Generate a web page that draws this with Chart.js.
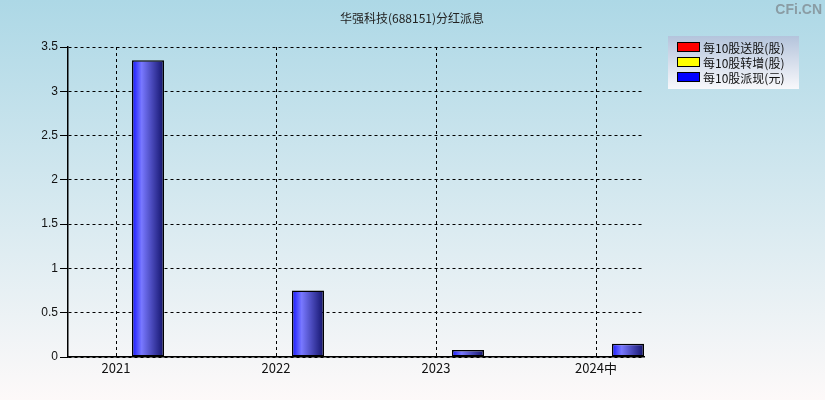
<!DOCTYPE html>
<html>
<head>
<meta charset="utf-8">
<script src="https://cdn.jsdelivr.net/npm/chart.js@4"></script>
<style>
  body { margin: 0; }
  #box { width: 825px; height: 400px; background: linear-gradient(to bottom, #add8e6, #fdf9f9); }
</style>
</head>
<body>
<div id="box"><canvas id="dividendChart" width="825" height="400"></canvas></div>
<script>
const title = '华强科技(688151)分红派息'
const years = ['2021', '2022', '2023', '2024中']
const songGu = [0, 0, 0, 0]
const zhuanZeng = [0, 0, 0, 0]
const paiXian = [3.35, 0.75, 0.08, 0.15]
const seriesNames = ['每10股送股(股)', '每10股转增(股)', '每10股派现(元)']
const seriesColors = ['#ff0000', '#ffff00', '#0000ff']

const fontLatin = 'Arial, "Liberation Sans", "Noto Sans CJK SC", sans-serif'
const fontCjk = '"Noto Sans CJK SC", "Liberation Sans", sans-serif'

function toPoints(values) {
  return values.map((v, i) => ({ x: i, y: v }))
}

// shaded bar fill, rebuilt per bar once positions are known
const shades = [
  ['#ff2020', '#ff7070', '#701010'],
  ['#ffff20', '#ffff80', '#707010'],
  ['#1414ff', '#7878ff', '#12126a']
]
const barShade = {
  id: 'barShade',
  beforeDatasetsDraw(chart) {
    const c = chart.ctx
    chart.data.datasets.forEach((ds, i) => {
      const s = shades[i]
      chart.getDatasetMeta(i).data.forEach((el) => {
        const l = el.x - el.width / 2
        const g = c.createLinearGradient(l, 0, l + el.width, 0)
        g.addColorStop(0, s[0])
        g.addColorStop(0.3, s[1])
        g.addColorStop(1, s[2])
        el.options = Object.assign({}, el.options, { backgroundColor: g })
      })
    })
  }
}

const decor = {
  id: 'decor',
  afterDraw(chart) {
    const c = chart.ctx
    c.save()
    // title
    c.fillStyle = '#222'
    c.font = '12px ' + fontCjk
    c.textAlign = 'center'
    c.textBaseline = 'middle'
    c.fillText(title, 412, 18)
    // watermark
    c.font = 'bold 14px ' + fontLatin
    c.fillStyle = '#8a9ca4'
    c.textAlign = 'right'
    c.fillText('CFi.CN', 822, 10)
    // legend
    const lx = 668, ly = 36, lw = 131, lh = 53
    const g = c.createLinearGradient(0, ly, 0, ly + lh)
    g.addColorStop(0, '#b4c4dc')
    g.addColorStop(1, '#f8f8fb')
    c.fillStyle = g
    c.fillRect(lx, ly, lw, lh)
    c.textAlign = 'left'
    c.font = '12px ' + fontCjk
    seriesNames.forEach((name, i) => {
      const y = ly + 11 + i * 15
      c.fillStyle = seriesColors[i]
      c.fillRect(677, y - 5, 23, 10)
      c.strokeStyle = '#000'
      c.lineWidth = 1
      c.strokeRect(677.5, y - 4.5, 22, 9)
      c.fillStyle = '#111'
      c.fillText(name, 703, y + 1)
    })
    c.restore()
  }
}

/* eslint-disable no-new */
new Chart(document.getElementById('dividendChart'), {
  type: 'bar',
  data: {
    datasets: [
      { label: seriesNames[0], data: toPoints(songGu) },
      { label: seriesNames[1], data: toPoints(zhuanZeng) },
      { label: seriesNames[2], data: toPoints(paiXian) }
    ]
  },
  options: {
    responsive: false,
    animation: false,
    categoryPercentage: 0.6,
    barPercentage: 1,
    borderColor: '#000',
    borderWidth: (ctx) => (ctx.raw && ctx.raw.y ? 1.5 : 0),
    borderSkipped: false,
    layout: { padding: { left: 0, top: 47, right: 181, bottom: 0 } },
    plugins: {
      legend: { display: false },
      title: { display: false },
      tooltip: { enabled: false }
    },
    scales: {
      x: {
        type: 'linear',
        min: -0.3,
        max: 3.3,
        offset: false,
        afterBuildTicks: (s) => { s.ticks = years.map((_, i) => ({ value: i })) },
        afterFit: (s) => { s.height = 43 },
        ticks: {
          callback: (v) => years[v],
          color: '#111',
          padding: 3,
          maxRotation: 0,
          font: { family: fontCjk, size: 13 }
        },
        grid: { offset: false, color: '#000', drawTicks: false },
        border: { color: '#000', width: 1.5, dash: [3, 3] }
      },
      y: {
        min: 0,
        max: 3.5,
        afterFit: (s) => { s.width = 68 },
        ticks: {
          stepSize: 0.5,
          callback: (v) => String(v),
          color: '#111',
          padding: 2,
          font: { family: fontLatin, size: 12 }
        },
        grid: { color: '#000', tickLength: 8, tickBorderDash: [] },
        border: { color: '#000', width: 1.5, dash: [3, 3] }
      }
    }
  },
  plugins: [barShade, decor]
})
</script>
</body>
</html>
